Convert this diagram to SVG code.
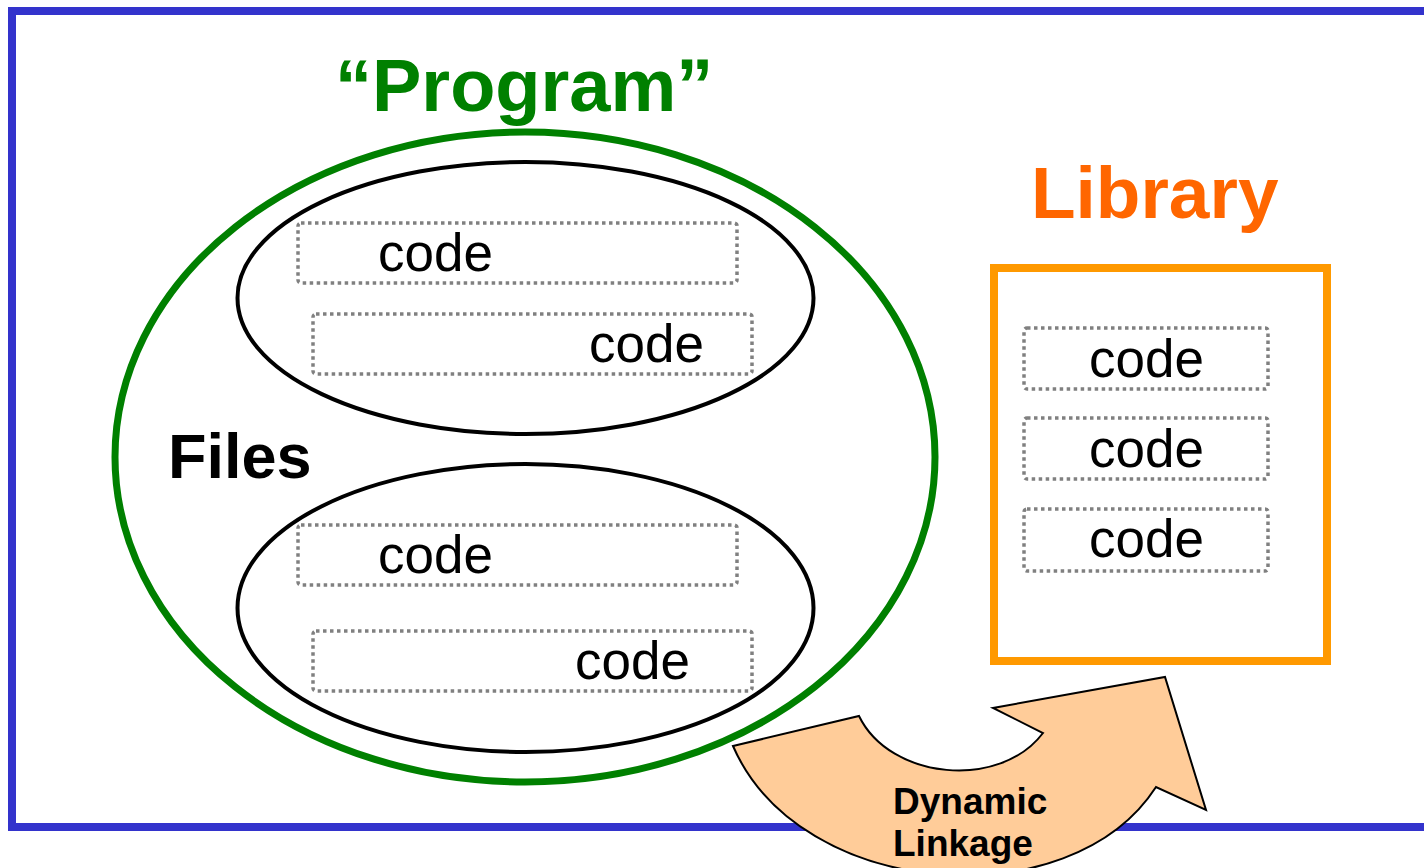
<svg xmlns="http://www.w3.org/2000/svg" width="1424" height="868" viewBox="0 0 1424 868">
<style>
.code{fill:none;stroke:#808080;stroke-width:3.5;stroke-dasharray:3.5 3.5}
.ct{font-family:"Liberation Sans",Arial,sans-serif;font-size:53px;fill:#000}
.b{font-family:"Liberation Sans",Arial,sans-serif;font-weight:bold}
</style>
<rect width="1424" height="868" fill="#fff"/>
<rect id="frame" x="12" y="11" width="1430" height="816" fill="none" stroke="#3333CC" stroke-width="8"/>
<g id="program">
<ellipse cx="525" cy="457" rx="410" ry="325" fill="none" stroke="#008000" stroke-width="7"/>
<text class="b" x="335" y="111" font-size="74" fill="#008000">“Program”</text>
</g>
<text id="files" class="b" x="168" y="478" font-size="63" fill="#000">Files</text>
<g id="file1">
<ellipse cx="525.5" cy="298" rx="288" ry="136" fill="none" stroke="#000" stroke-width="4"/>
<rect class="code" x="298" y="223" width="439" height="60" rx="3"/>
<text class="ct" x="378" y="271">code</text>
<rect class="code" x="313" y="314" width="439" height="60" rx="3"/>
<text class="ct" x="589" y="362">code</text>
</g>
<g id="file2">
<ellipse cx="525.5" cy="608" rx="288" ry="144" fill="none" stroke="#000" stroke-width="4"/>
<rect class="code" x="298" y="525" width="439" height="60" rx="3"/>
<text class="ct" x="378" y="573">code</text>
<rect class="code" x="313" y="631" width="439" height="60" rx="3"/>
<text class="ct" x="575" y="679">code</text>
</g>
<g id="library">
<text class="b" x="1031" y="218" font-size="73" fill="#FF6600">Library</text>
<rect x="994" y="268" width="333" height="393" fill="none" stroke="#FF9900" stroke-width="8"/>
<rect class="code" x="1024" y="328" width="244" height="61" rx="3"/>
<text class="ct" x="1089" y="377">code</text>
<rect class="code" x="1024" y="418" width="244" height="61" rx="3"/>
<text class="ct" x="1089" y="467">code</text>
<rect class="code" x="1024" y="509" width="244" height="62" rx="3"/>
<text class="ct" x="1089" y="557">code</text>
</g>
<g id="connectors">
<g id="dynamic-linkage">
<path d="M733,746 L859,716 C890,780 1000,790 1043,733 L993,708 L1165,677 L1206,810 L1156,787 C1070,920 800,900 733,746 Z" fill="#FFCC99" stroke="#000" stroke-width="2" stroke-linejoin="miter"/>
<text class="b" x="893" y="814" font-size="37" fill="#000">Dynamic</text>
<text class="b" x="893" y="856" font-size="37" fill="#000">Linkage</text>
</g>
</g>
</svg>
